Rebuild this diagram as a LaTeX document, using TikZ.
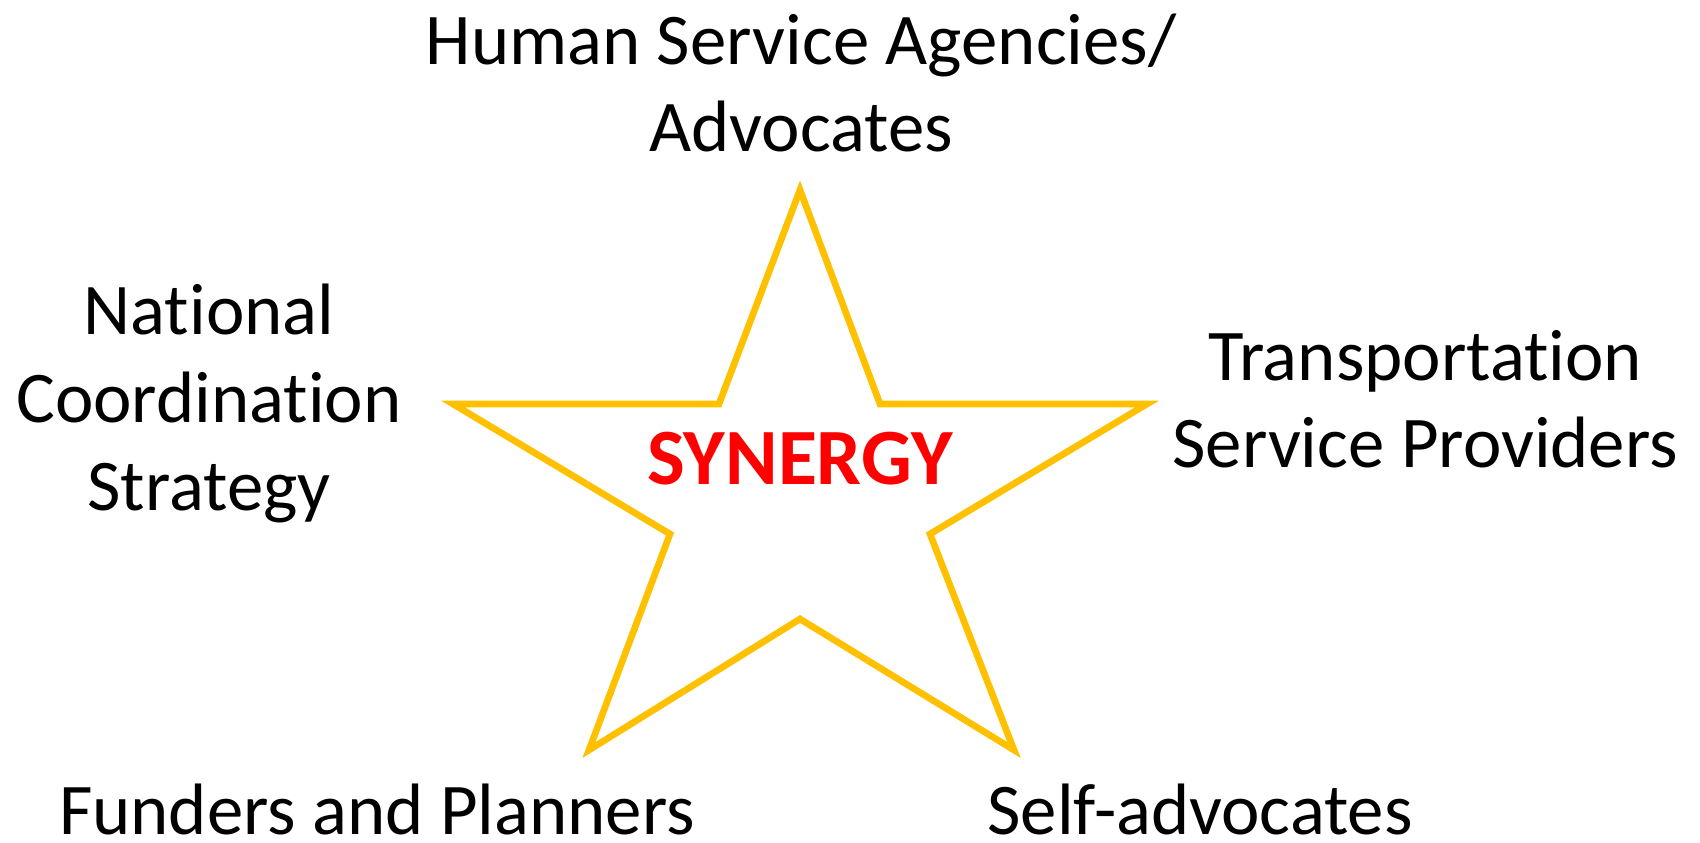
\documentclass[tikz,border=0pt]{standalone}
\usepackage[svgnames]{xcolor}
\usepackage{fontspec}
\setmainfont[Ligatures={NoCommon}]{Carlito}
\usepackage{tikz}
\definecolor{starGold}{HTML}{FFC000}
\colorlet{synergyText}{Red}

\begin{document}
\begin{tikzpicture}[
  x=0.01cm,
  y=0.01cm,
  party/.style={
    align=center,
    anchor=base,
    inner sep=0pt,
    font=\fontsize{20.7}{24.9}\selectfont,
  },
  star edge/.style={
    draw=starGold,
    line width=1.9pt,
    line join=miter,
  },
  synergy/.style={
    text=synergyText,
    anchor=base,
    font=\fontsize{22.7}{27}\selectfont\bfseries,
  }
]
\useasboundingbox (0,0) rectangle (1700,842);
% star corners, clockwise from the top
\foreach \name/\pos in {o0/{800,652},i0/{880,438},o1/{1147,438},i1/{930,308},
  o2/{1014,92},i2/{800,223},o3/{589,92},i3/{670,308},o4/{453,438},i4/{719,438}}
  \coordinate (\name) at (\pos);
\draw[star edge] (o0) -- (i0) -- (o1) -- (i1) -- (o2) -- (i2) -- (o3) -- (i3) -- (o4) -- (i4) -- cycle;
\node[synergy] (synergy) at (800,357) {SYNERGY};
% the five parties round the star (base = last line)
\node[party] (agencies) at (801,690) {Human Service Agencies/\\Advocates};
\node[party] (national) at (209,332) {National\\Coordination\\Strategy};
\node[party] (transport) at (1425,374) {Transportation\\Service Providers};
\node[party] (funders) at (377,8) {Funders and Planners};
\node[party] (self) at (1200,8) {Self-advocates};
\end{tikzpicture}
\end{document}
